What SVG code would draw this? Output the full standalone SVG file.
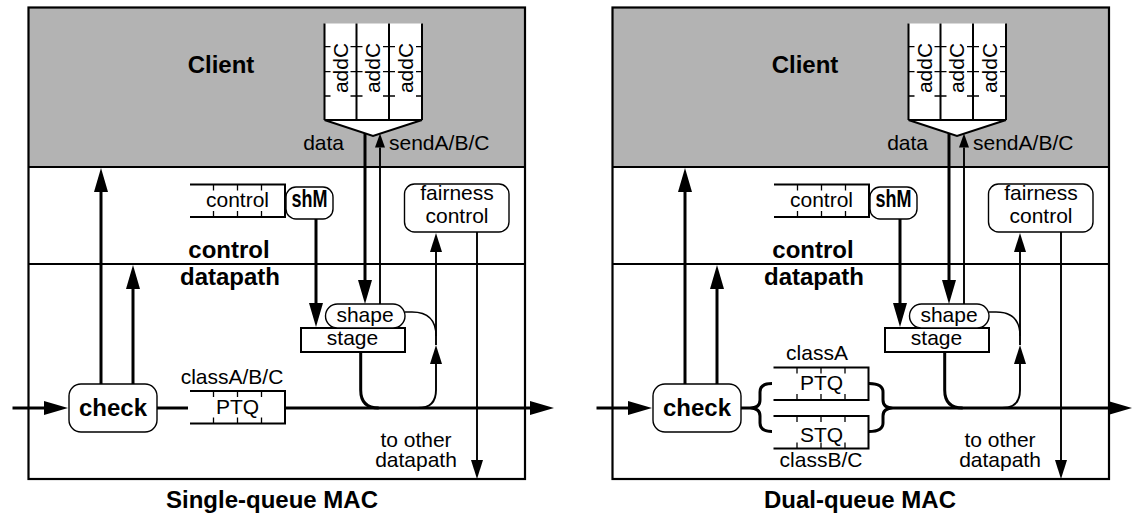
<svg xmlns="http://www.w3.org/2000/svg" width="1133" height="518" viewBox="0 0 1133 518">
  <style>
    text { font-family: "Liberation Sans", Arial, sans-serif; fill: #000; }
    .lbl { font-size: 21px; }
    .bold { font-size: 24px; font-weight: bold; }
    .mid { text-anchor: middle; }
    .frame { fill: none; stroke: #000; stroke-width: 2.2; }
    .client { fill: #b3b3b3; stroke: none; }
    .q { fill: none; stroke: #000; stroke-width: 2; }
    .tick { fill: none; stroke: #000; stroke-width: 1.3; }
    .round { fill: #fff; stroke: #000; stroke-width: 1.4; }
    .box { fill: #fff; stroke: #000; stroke-width: 2; }
    .thick { fill: none; stroke: #000; stroke-width: 3; }
    .thin { fill: none; stroke: #000; stroke-width: 1.9; }
    .hair { fill: none; stroke: #000; stroke-width: 1.5; }
  </style>
  <defs>
    <marker id="arrL" viewBox="0 0 24 14" refX="0" refY="7" markerWidth="24" markerHeight="14" markerUnits="userSpaceOnUse" orient="auto">
      <path d="M0,0 L24,7 L0,14 z" fill="#000"/>
    </marker>
    <marker id="arrS" viewBox="0 0 19 12" refX="0" refY="6" markerWidth="19" markerHeight="12" markerUnits="userSpaceOnUse" orient="auto">
      <path d="M0,0 L19,6 L0,12 z" fill="#000"/>
    </marker>
    <marker id="arrXS" viewBox="0 0 14 10" refX="0" refY="5" markerWidth="14" markerHeight="10" markerUnits="userSpaceOnUse" orient="auto">
      <path d="M0,0 L14,5 L0,10 z" fill="#000"/>
    </marker>
    <!-- queue with open left end and closed right end, ticks at slot borders -->
    <g id="queueH">
      <path class="q" d="M0,0 H95 V32.5 H0"/>
      <path class="tick" d="M23.5,0 v6 M47.5,0 v6 M71.5,0 v6 M23.5,32.5 v-6 M47.5,32.5 v-6 M71.5,32.5 v-6"/>
    </g>
  </defs>

  <!-- ============ single-queue MAC ============ -->
  <g id="single-queue">
    <g id="L-frame">
      <rect class="client" x="28.5" y="7.5" width="496.5" height="159.5"/>
      <rect class="frame" x="28.5" y="7.5" width="496.5" height="471.5"/>
      <path class="frame" d="M28.5,167 H525 M28.5,264 H525"/>
    </g>
    <g id="L-client">
      <text class="bold mid" x="221" y="73">Client</text>
    </g>
    <g id="L-addC">
      <path d="M324.5,23.5 H422 V120 L373,136 L324.5,120 z" fill="#fff"/>
      <path class="q" d="M324.5,23.5 V120 M356.5,23.5 V120 M389,23.5 V120 M422,23.5 V120 M324.5,120 H422 M324.5,120 L373,136 L422,120"/>
      <path class="tick" d="M324.5,46.7 h6 M324.5,71.7 h6 M324.5,96 h6 M350.5,46.7 h12 M350.5,71.7 h12 M350.5,96 h12 M383,46.7 h12 M383,71.7 h12 M383,96 h12 M416,46.7 h6 M416,71.7 h6 M416,96 h6"/>
      <text class="lbl mid" transform="translate(348,68) rotate(-90)">addC</text>
      <text class="lbl mid" transform="translate(380,68) rotate(-90)">addC</text>
      <text class="lbl mid" transform="translate(412.5,68) rotate(-90)">addC</text>
    </g>
    <g id="L-control-queue">
      <use href="#queueH" x="190" y="184.5"/>
      <text class="lbl mid" x="237.5" y="207">control</text>
    </g>
    <g id="L-shM">
      <rect class="round" x="286" y="187" width="47" height="32" rx="10"/>
      <text class="bold mid" x="309.5" y="207" font-size="22" textLength="36" lengthAdjust="spacingAndGlyphs">shM</text>
    </g>
    <g id="L-fairness">
      <rect class="round" x="404.5" y="184" width="104.5" height="48" rx="10"/>
      <text class="lbl mid" x="457" y="200">fairness</text>
      <text class="lbl mid" x="457" y="223">control</text>
    </g>
    <g id="L-section-labels">
      <text class="bold mid" x="229" y="258">control</text>
      <text class="bold mid" x="230" y="285">datapath</text>
    </g>
    <g id="L-stage">
      <rect class="box" x="301" y="328" width="104" height="24"/>
      <text class="lbl mid" x="352.5" y="345">stage</text>
    </g>
    <g id="L-shape">
      <rect class="round" x="325.5" y="304" width="79.5" height="24" rx="12"/>
      <text class="lbl mid" x="365" y="322">shape</text>
    </g>
    <g id="L-check">
      <rect class="round" x="69" y="384" width="88" height="48" rx="12"/>
      <text class="bold mid" x="113" y="416">check</text>
    </g>
    <g id="L-ptq">
      <use href="#queueH" x="190" y="391"/>
      <text class="lbl mid" x="237.5" y="413.5">PTQ</text>
      <text class="lbl mid" x="232" y="383.5">classA/B/C</text>
    </g>
    <g id="L-labels">
      <text class="lbl" x="344" y="150" text-anchor="end">data</text>
      <text class="lbl" x="389" y="150">sendA/B/C</text>
      <text class="lbl mid" x="416" y="447">to other</text>
      <text class="lbl mid" x="416" y="467">datapath</text>
      <text class="bold mid" x="272" y="508">Single-queue MAC</text>
    </g>
    <g id="L-connectors">
      <path class="thick" d="M12.5,408 H44" marker-end="url(#arrL)"/>
      <path class="thick" d="M157,408 H188"/>
      <path class="thick" d="M285,408 H530" marker-end="url(#arrL)"/>
      <path class="thick" d="M101,384 V192" marker-end="url(#arrL)"/>
      <path class="thick" d="M133,384 V289" marker-end="url(#arrL)"/>
      <path class="thick" d="M316,219 V303" marker-end="url(#arrL)"/>
      <path class="thick" d="M365,133.5 V280" marker-end="url(#arrL)"/>
      <path class="thin" d="M380,304 V147.5" marker-end="url(#arrXS)"/>
      <path class="hair" d="M405,312 H412 Q436,312 436,336"/>
      <path class="thick" d="M360.7,352 V390 Q360.7,408 378.7,408"/>
      <path class="thin" d="M418,408 Q436,408 436,390 V364" marker-end="url(#arrS)"/>
      <path class="thin" d="M436,345 V252" marker-end="url(#arrS)"/>
      <path class="thin" d="M477,232 V460" marker-end="url(#arrS)"/>
    </g>
  </g>

  <!-- ============ dual-queue MAC ============ -->
  <g id="dual-queue" transform="translate(584,0)">
    <g id="R-frame">
      <rect class="client" x="28.5" y="7.5" width="496.5" height="159.5"/>
      <rect class="frame" x="28.5" y="7.5" width="496.5" height="471.5"/>
      <path class="frame" d="M28.5,167 H525 M28.5,264 H525"/>
    </g>
    <g id="R-client">
      <text class="bold mid" x="221" y="73">Client</text>
    </g>
    <g id="R-addC">
      <path d="M324.5,23.5 H422 V120 L373,136 L324.5,120 z" fill="#fff"/>
      <path class="q" d="M324.5,23.5 V120 M356.5,23.5 V120 M389,23.5 V120 M422,23.5 V120 M324.5,120 H422 M324.5,120 L373,136 L422,120"/>
      <path class="tick" d="M324.5,46.7 h6 M324.5,71.7 h6 M324.5,96 h6 M350.5,46.7 h12 M350.5,71.7 h12 M350.5,96 h12 M383,46.7 h12 M383,71.7 h12 M383,96 h12 M416,46.7 h6 M416,71.7 h6 M416,96 h6"/>
      <text class="lbl mid" transform="translate(348,68) rotate(-90)">addC</text>
      <text class="lbl mid" transform="translate(380,68) rotate(-90)">addC</text>
      <text class="lbl mid" transform="translate(412.5,68) rotate(-90)">addC</text>
    </g>
    <g id="R-control-queue">
      <use href="#queueH" x="190" y="184.5"/>
      <text class="lbl mid" x="237.5" y="207">control</text>
    </g>
    <g id="R-shM">
      <rect class="round" x="286" y="187" width="47" height="32" rx="10"/>
      <text class="bold mid" x="309.5" y="207" font-size="22" textLength="36" lengthAdjust="spacingAndGlyphs">shM</text>
    </g>
    <g id="R-fairness">
      <rect class="round" x="404.5" y="184" width="104.5" height="48" rx="10"/>
      <text class="lbl mid" x="457" y="200">fairness</text>
      <text class="lbl mid" x="457" y="223">control</text>
    </g>
    <g id="R-section-labels">
      <text class="bold mid" x="229" y="258">control</text>
      <text class="bold mid" x="230" y="285">datapath</text>
    </g>
    <g id="R-stage">
      <rect class="box" x="301" y="328" width="104" height="24"/>
      <text class="lbl mid" x="352.5" y="345">stage</text>
    </g>
    <g id="R-shape">
      <rect class="round" x="325.5" y="304" width="79.5" height="24" rx="12"/>
      <text class="lbl mid" x="365" y="322">shape</text>
    </g>
    <g id="R-check">
      <rect class="round" x="69" y="384" width="88" height="48" rx="12"/>
      <text class="bold mid" x="113" y="416">check</text>
    </g>
    <g id="R-ptq">
      <use href="#queueH" x="189.5" y="367.5"/>
      <text class="lbl mid" x="237.5" y="390">PTQ</text>
      <text class="lbl mid" x="233" y="360">classA</text>
    </g>
    <g id="R-stq">
      <use href="#queueH" x="189.5" y="416" transform="translate(0,0)"/>
      <text class="lbl mid" x="237.5" y="441.5">STQ</text>
      <text class="lbl mid" x="237" y="467">classB/C</text>
    </g>
    <g id="R-labels">
      <text class="lbl" x="344" y="150" text-anchor="end">data</text>
      <text class="lbl" x="389" y="150">sendA/B/C</text>
      <text class="lbl mid" x="416" y="447">to other</text>
      <text class="lbl mid" x="416" y="467">datapath</text>
      <text class="bold mid" x="276" y="508">Dual-queue MAC</text>
    </g>
    <g id="R-connectors">
      <path class="thick" d="M12.5,408 H44" marker-end="url(#arrL)"/>
      <path class="thick" d="M157,408 H166"/>
      <path class="thick" d="M188,383.5 Q176,383.5 176,392 V400 Q176,408 166,408 Q176,408 176,416 V423 Q176,431.5 188,431.5" stroke-width="2.4"/>
      <path class="thick" d="M285,383.5 Q299,383.5 299,392 V400 Q299,408 309,408 Q299,408 299,416 V423 Q299,431.5 285,431.5" stroke-width="2.4"/>
      <path class="thick" d="M309,408 H524" marker-end="url(#arrL)"/>
      <path class="thick" d="M101,384 V192" marker-end="url(#arrL)"/>
      <path class="thick" d="M133,384 V289" marker-end="url(#arrL)"/>
      <path class="thick" d="M316,219 V303" marker-end="url(#arrL)"/>
      <path class="thick" d="M365,133.5 V280" marker-end="url(#arrL)"/>
      <path class="thin" d="M380,304 V147.5" marker-end="url(#arrXS)"/>
      <path class="hair" d="M405,312 H412 Q436,312 436,336"/>
      <path class="thick" d="M360.7,352 V390 Q360.7,408 378.7,408"/>
      <path class="thin" d="M418,408 Q436,408 436,390 V364" marker-end="url(#arrS)"/>
      <path class="thin" d="M436,345 V252" marker-end="url(#arrS)"/>
      <path class="thin" d="M477,232 V460" marker-end="url(#arrS)"/>
    </g>
  </g>
</svg>
